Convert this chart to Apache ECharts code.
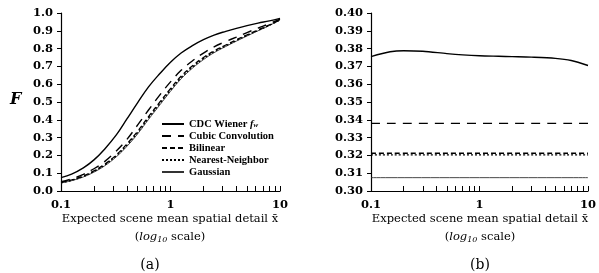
<!DOCTYPE html>
<html lang="en">
<head>
<meta charset="UTF-8">
<title>F vs expected scene mean spatial detail</title>
<script src="https://cdn.jsdelivr.net/npm/echarts@6/dist/echarts.min.js"></script>
<style>
  html, body { margin: 0; padding: 0; background: #fff; }
  #main { width: 599px; height: 273px; }
</style>
</head>
<body>
<div id="main"></div>
<script>
// series names
var names = ['CDC Wiener fw', 'Cubic Convolution', 'Bilinear', 'Nearest-Neighbor', 'Gaussian'];

// panel (a): x samples (log scale) and F values
var xA = [0.1, 0.125, 0.16, 0.2, 0.25, 0.32, 0.4, 0.5, 0.63, 0.8, 1, 1.25, 1.6, 2, 2.5, 3.2, 4, 5, 6.3, 8, 10];
var wienerA   = [0.075, 0.095, 0.13, 0.175, 0.235, 0.315, 0.405, 0.495, 0.585, 0.66, 0.723, 0.775, 0.818, 0.85, 0.876, 0.897, 0.914, 0.929, 0.943, 0.956, 0.97];
var cubicA    = [0.052, 0.068, 0.093, 0.125, 0.165, 0.225, 0.29, 0.37, 0.455, 0.54, 0.613, 0.678, 0.733, 0.775, 0.81, 0.84, 0.865, 0.89, 0.915, 0.94, 0.965];
var bilinearA = [0.048, 0.062, 0.085, 0.113, 0.15, 0.203, 0.265, 0.335, 0.418, 0.5, 0.575, 0.645, 0.705, 0.75, 0.787, 0.82, 0.85, 0.877, 0.905, 0.933, 0.962];
var nearestA  = [0.046, 0.06, 0.082, 0.11, 0.146, 0.198, 0.258, 0.328, 0.41, 0.492, 0.567, 0.637, 0.698, 0.744, 0.782, 0.816, 0.846, 0.874, 0.902, 0.931, 0.961];
var gaussA    = [0.045, 0.058, 0.079, 0.106, 0.141, 0.192, 0.251, 0.32, 0.402, 0.484, 0.56, 0.63, 0.692, 0.738, 0.777, 0.812, 0.842, 0.871, 0.9, 0.93, 0.96];

// panel (b)
var xB = [0.1, 0.15, 0.2, 0.3, 0.5, 0.7, 1, 1.5, 2, 3, 5, 7, 10];
var wienerB = [0.3755, 0.3782, 0.3788, 0.3785, 0.3772, 0.3765, 0.3760, 0.3757, 0.3755, 0.3752, 0.3745, 0.3733, 0.3705];
var xFlat = [0.1, 10];
var cubicB    = [0.3380, 0.3380];
var bilinearB = [0.3212, 0.3212];
var nearestB  = [0.3203, 0.3203];
var gaussB    = [0.3075, 0.3075];

// tick positions on the log axes
var xLabels = [0.1, 1, 10];
var xTicks = [0.1, 0.2, 0.3, 0.4, 0.5, 0.6, 0.7, 0.8, 0.9, 1, 2, 3, 4, 5, 6, 7, 8, 9, 10];

function pairs(xs, ys) {
    return xs.map(function (x, i) { return [x, ys[i]]; });
}

var tickFont = { fontFamily: 'DejaVu Serif', fontWeight: 'bold', fontSize: 11.5, color: '#000' };
var axisLine = { show: true, lineStyle: { color: '#000', width: 1.2 } };

function xAxisFor(gi) {
    return {
        type: 'log', logBase: 10, gridIndex: gi, min: 0.1, max: 10,
        axisLine: axisLine,
        axisTick: { show: true, inside: true, length: 5, customValues: xTicks, lineStyle: { color: '#000', width: 1 } },
        axisLabel: Object.assign({ margin: 8, customValues: xLabels,
            formatter: function (v) { return String(Number(v.toPrecision(3))); } }, tickFont),
        splitLine: { show: false },
        minorTick: { show: false }
    };
}

var styles = [
    { color: '#000', width: 1.4, type: 'solid' },
    { color: '#000', width: 1.4, type: [9, 7] },
    { color: '#000', width: 1.3, type: [5, 3] },
    { color: '#000', width: 1.3, type: [2, 2] },
    { color: '#333', width: 0.9, type: 'solid' }
];
var dataA = [wienerA, cubicA, bilinearA, nearestA, gaussA];
var dataB = [wienerB, cubicB, bilinearB, nearestB, gaussB];

var series = [];
names.forEach(function (n, i) {
    series.push({
        name: n, type: 'line', xAxisIndex: 0, yAxisIndex: 0,
        data: pairs(xA, dataA[i]), smooth: 0.4, symbol: 'none', legendIcon: 'line',
        lineStyle: styles[i], itemStyle: { color: styles[i].color }, z: 5 - i
    });
    series.push({
        name: n, type: 'line', xAxisIndex: 1, yAxisIndex: 1,
        data: i === 0 ? pairs(xB, wienerB) : pairs(xFlat, dataB[i]),
        smooth: 0.3, symbol: 'none', legendIcon: 'line',
        lineStyle: styles[i], itemStyle: { color: styles[i].color }, z: 5 - i
    });
});

var titleStyle = { fontFamily: 'DejaVu Serif', fontSize: 11.5, fill: '#000' };
var logRich = {
    i: { fontFamily: 'DejaVu Serif', fontStyle: 'italic', fontSize: 11.5 },
    s: { fontFamily: 'DejaVu Serif', fontStyle: 'italic', fontSize: 8, padding: [5, 0, 0, 0] }
};

var option = {
    backgroundColor: '#fff',
    animation: false,
    grid: [
        { left: 61, top: 13, width: 219, height: 178 },
        { left: 371, top: 13, width: 219, height: 178 }
    ],
    xAxis: [xAxisFor(0), xAxisFor(1)],
    yAxis: [
        {
            type: 'value', gridIndex: 0, min: 0, max: 1, interval: 0.1,
            axisLine: axisLine,
            axisTick: { show: true, length: 4, lineStyle: { color: '#000' } },
            axisLabel: Object.assign({ margin: 8, formatter: function (v) { return v.toFixed(1); } }, tickFont),
            splitLine: { show: false }
        },
        {
            type: 'value', gridIndex: 1, min: 0.30, max: 0.40, interval: 0.01,
            axisLine: axisLine,
            axisTick: { show: true, length: 4, lineStyle: { color: '#000' } },
            axisLabel: Object.assign({ margin: 8, formatter: function (v) { return v.toFixed(2); } }, tickFont),
            splitLine: { show: false }
        }
    ],
    legend: {
        orient: 'vertical', left: 156, top: 113,
        itemWidth: 22, itemHeight: 8, itemGap: 0, itemTextGap: 21,
        data: names,
        itemStyle: { color: 'rgba(0,0,0,0)', borderWidth: 0 },
        formatter: function (n) {
            return n === names[0] ? 'CDC Wiener {f|f}{w|w}' : n;
        },
        textStyle: {
            fontFamily: 'Liberation Serif', fontWeight: 'bold', fontSize: 10.5, color: '#000', lineHeight: 12,
            rich: {
                f: { fontFamily: 'Liberation Serif', fontStyle: 'italic', fontWeight: 'bold', fontSize: 10.5, lineHeight: 12 },
                w: { fontFamily: 'Liberation Serif', fontStyle: 'italic', fontSize: 7, lineHeight: 12, padding: [3, 0, 0, 0] }
            }
        }
    },
    graphic: [
        { type: 'text', left: 10, top: 92, style: { text: 'F', font: 'italic bold 16px "DejaVu Serif"', fill: '#000' } },
        { type: 'text', x: 170, y: 219, style: Object.assign({ text: 'Expected scene mean spatial detail x\u0304', align: 'center', verticalAlign: 'middle' }, titleStyle) },
        { type: 'text', x: 170, y: 237, style: Object.assign({ text: '({i|log}{s|10} scale)', align: 'center', verticalAlign: 'middle', rich: logRich }, titleStyle) },
        { type: 'text', x: 480, y: 219, style: Object.assign({ text: 'Expected scene mean spatial detail x\u0304', align: 'center', verticalAlign: 'middle' }, titleStyle) },
        { type: 'text', x: 480, y: 237, style: Object.assign({ text: '({i|log}{s|10} scale)', align: 'center', verticalAlign: 'middle', rich: logRich }, titleStyle) },
        { type: 'text', x: 150, y: 265, style: { text: '(a)', align: 'center', verticalAlign: 'middle', font: '14px "DejaVu Serif"', fill: '#000' } },
        { type: 'text', x: 480, y: 265, style: { text: '(b)', align: 'center', verticalAlign: 'middle', font: '14px "DejaVu Serif"', fill: '#000' } }
    ],
    series: series
};

var chart = echarts.init(document.getElementById('main'), null, { renderer: 'canvas' });
chart.setOption(option);
</script>
</body>
</html>
